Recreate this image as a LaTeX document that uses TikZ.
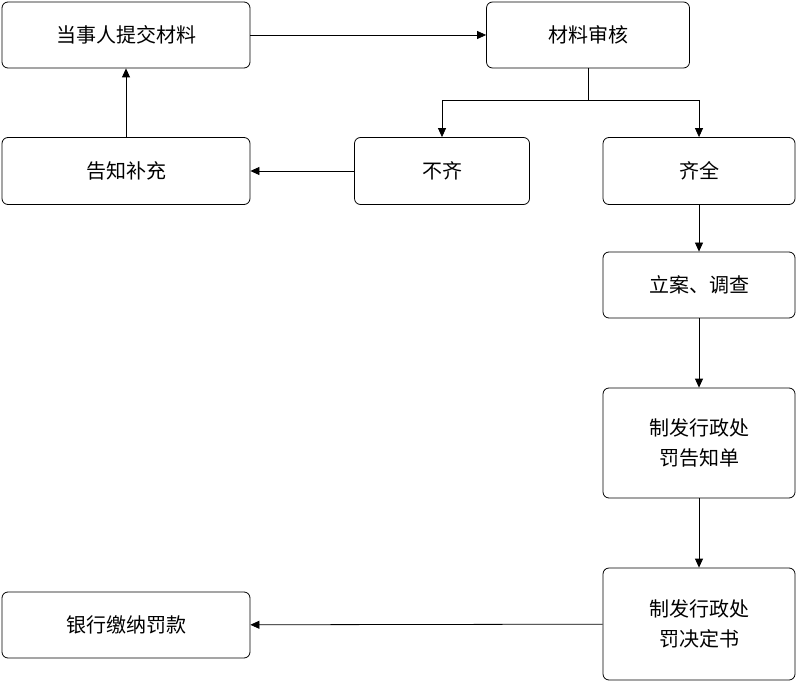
\documentclass[tikz,border=0pt]{standalone}
\usepackage{fontspec}
\newfontfamily\cjk{Noto Sans CJK SC}
\usetikzlibrary{arrows.meta}
\begin{document}
\begin{tikzpicture}[
	x=1pt, y=-1pt,
	stage/.style={
		rectangle,
		draw=black,
		thick,
		align=center,
		rounded corners=6pt,
		font=\cjk\fontsize{20}{30}\selectfont,
		inner sep=0pt
	},
	flow/.style={thick,-{Triangle[length=9pt,width=8pt]}},
]
\useasboundingbox (0,0) rectangle (799,684);

% Top row
\node[stage, minimum width=248pt, minimum height=66pt] (submit) at (126,35) {当事人提交材料};
\node[stage, minimum width=203pt, minimum height=66pt] (review) at (588,35) {材料审核};

% Second row
\node[stage, minimum width=248pt, minimum height=67pt] (notify) at (126,171) {告知补充};
\node[stage, minimum width=175pt, minimum height=67pt] (incomplete) at (442,171) {不齐};
\node[stage, minimum width=192pt, minimum height=67pt] (complete) at (699,171) {齐全};

% Right column
\node[stage, minimum width=192pt, minimum height=66pt] (case) at (699,285) {立案、调查};
\node[stage, minimum width=192pt, minimum height=110pt] (advice) at (699,443) {制发行政处\\罚告知单};
\node[stage, minimum width=192pt, minimum height=112pt] (decision) at (699,624) {制发行政处\\罚决定书};
\node[stage, minimum width=248pt, minimum height=66pt] (pay) at (126,625) {银行缴纳罚款};

\coordinate (split) at (588,100);

\draw[flow] (submit) -- (review);
\draw[thick] (review) -- (split);
\draw[flow] (split) -| (incomplete);
\draw[flow] (split) -| (complete);
\draw[flow] (incomplete) -- (notify);
\draw[flow] (notify) -- (submit);
\draw[flow] (complete) -- (case);
\draw[flow] (case) -- (advice);
\draw[flow] (advice) -- (decision);
\draw[flow] (decision) -- (pay);

\end{tikzpicture}
\end{document}
